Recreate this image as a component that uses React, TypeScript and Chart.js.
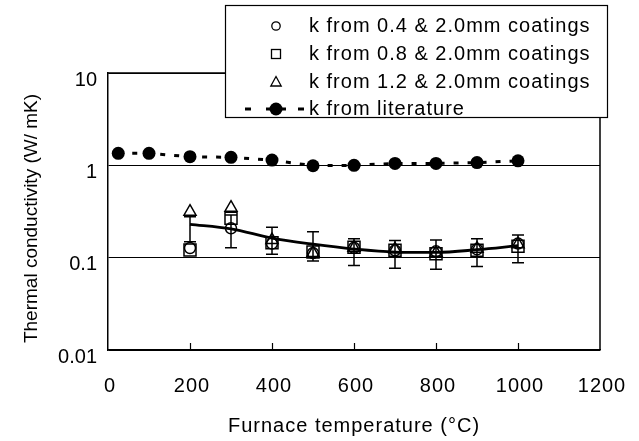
import React, { useEffect, useRef } from 'react';
import { Chart, registerables } from 'chart.js';

Chart.register(...registerables);

// ---- data ----
const temps = [200, 300, 400, 500, 600, 700, 800, 900, 1000];
const k04 = [0.127, 0.208, 0.142, 0.112, 0.128, 0.12, 0.117, 0.123, 0.142];
const k08 = [0.121, 0.267, 0.145, 0.115, 0.13, 0.12, 0.11, 0.12, 0.133];
const k12 = [0.315, 0.348, 0.155, 0.112, 0.128, 0.123, 0.113, 0.125, 0.14];
const kMean = [0.23, 0.205, 0.163, 0.14, 0.124, 0.115, 0.114, 0.122, 0.135];
const errLow = [0.149, 0.128, 0.109, 0.092, 0.082, 0.077, 0.075, 0.08, 0.088];
const errHigh = [0.278, 0.29, 0.213, 0.191, 0.16, 0.153, 0.155, 0.16, 0.176];
const litTemps = [25, 100, 200, 300, 400, 500, 600, 700, 800, 900, 1000];
const kLit = [1.35, 1.35, 1.24, 1.22, 1.14, 0.99, 1.0, 1.05, 1.05, 1.07, 1.12];
const xTicks = [0, 200, 400, 600, 800, 1000, 1200];
const yTicks = [0.01, 0.1, 1, 10];
const yTickLabels = ['0.01', '0.1', '1', '10'];
const legendLabels = [
  'k from 0.4 & 2.0mm coatings',
  'k from 0.8 & 2.0mm coatings',
  'k from 1.2 & 2.0mm coatings',
  'k from literature',
];

const FONT = "'Liberation Sans', Arial, sans-serif";
const FS = 20;

const pts = (xs: number[], ys: number[]) => xs.map((x, i) => ({ x, y: ys[i] }));

const patch = (s: any, name: string, spacing: string, dy: number) => {
  if (s['__p_' + name]) return;
  const orig = s[name].bind(s);
  s[name] = (...args: any[]) => {
    const ctx = s.ctx;
    ctx.save();
    ctx.letterSpacing = spacing;
    if (dy) ctx.translate(0, dy);
    orig(...args);
    ctx.restore();
  };
  s['__p_' + name] = true;
};

const framePlugin = {
  id: 'frame',
  afterDatasetsDraw(chart: any) {
    const { ctx, chartArea: a, scales } = chart;
    ctx.save();
    ctx.strokeStyle = '#000';
    ctx.lineWidth = 1.5;
    ctx.beginPath();
    ctx.moveTo(a.left, a.top);
    ctx.lineTo(a.right, a.top);
    ctx.lineTo(a.right, a.bottom);
    ctx.stroke();
    // inward x ticks
    ctx.lineWidth = 1.2;
    xTicks.slice(1, -1).forEach((v) => {
      const px = Math.round(scales.x.getPixelForValue(v)) + 0.5;
      ctx.beginPath();
      ctx.moveTo(px, a.bottom);
      ctx.lineTo(px, a.bottom - 7);
      ctx.stroke();
    });
    // error bars
    ctx.lineWidth = 1.5;
    temps.forEach((t, i) => {
      const px = scales.x.getPixelForValue(t);
      const y1 = scales.y.getPixelForValue(errLow[i]);
      const y2 = scales.y.getPixelForValue(errHigh[i]);
      ctx.beginPath();
      ctx.moveTo(px, y1);
      ctx.lineTo(px, y2);
      ctx.moveTo(px - 6, y1);
      ctx.lineTo(px + 6, y1);
      ctx.moveTo(px - 6, y2);
      ctx.lineTo(px + 6, y2);
      ctx.stroke();
    });
    ctx.restore();
  },
  afterDraw(chart: any) {
    const { ctx } = chart;
    const L = 225, T = 5, R = 607, B = 117;
    ctx.save();
    ctx.fillStyle = '#fff';
    ctx.fillRect(L, T, R - L, B - T);
    ctx.strokeStyle = '#000';
    ctx.lineWidth = 1.2;
    ctx.strokeRect(L + 0.5, T + 0.5, R - L, B - T);
    const rows = [26, 54, 82, 109];
    const mx = 276;
    ctx.lineWidth = 1.3;
    // circle
    ctx.beginPath();
    ctx.arc(mx, rows[0], 4.2, 0, Math.PI * 2);
    ctx.stroke();
    // square
    ctx.strokeRect(mx - 4.5, rows[1] - 4.5, 9, 9);
    // triangle
    ctx.beginPath();
    ctx.moveTo(mx, rows[2] - 5.5);
    ctx.lineTo(mx + 5.2, rows[2] + 4);
    ctx.lineTo(mx - 5.2, rows[2] + 4);
    ctx.closePath();
    ctx.stroke();
    // literature: dash - dot - dash
    ctx.fillStyle = '#000';
    ctx.fillRect(mx - 31, rows[3] - 1.5, 6, 3);
    ctx.fillRect(mx - 10, rows[3] - 1.5, 20, 3);
    ctx.fillRect(mx + 22, rows[3] - 1.5, 6, 3);
    ctx.beginPath();
    ctx.arc(mx, rows[3], 6.5, 0, Math.PI * 2);
    ctx.fill();
    ctx.font = `${FS}px ${FONT}`;
    ctx.textBaseline = 'middle';
    ctx.textAlign = 'left';
    (ctx as any).letterSpacing = '1px';
    legendLabels.forEach((s, i) => ctx.fillText(s, 309, rows[i]));
    (ctx as any).letterSpacing = '0px';
    ctx.restore();
  },
};

export default function App() {
  const ref = useRef<HTMLCanvasElement | null>(null);
  useEffect(() => {
    if (!ref.current) return;
    const chart = new Chart(ref.current, {
      type: 'scatter',
      data: {
        datasets: [
          {
            label: 'lit',
            data: pts(litTemps, kLit),
            showLine: true,
            borderColor: '#000',
            borderWidth: 3,
            borderDash: [5, 9],
            pointStyle: 'circle',
            pointRadius: 6.5,
            pointBackgroundColor: '#000',
            pointBorderColor: '#000',
            pointBorderWidth: 0,
          },
          {
            label: 'k04',
            data: pts(temps, k04),
            showLine: false,
            pointStyle: 'circle',
            pointRadius: 5.5,
            pointBackgroundColor: 'rgba(0,0,0,0)',
            pointBorderColor: '#000',
            pointBorderWidth: 1.5,
          },
          {
            label: 'k08',
            data: pts(temps, k08),
            showLine: false,
            pointStyle: 'rect',
            pointRadius: 8.5,
            pointBackgroundColor: 'rgba(0,0,0,0)',
            pointBorderColor: '#000',
            pointBorderWidth: 1.5,
          },
          {
            label: 'k12',
            data: pts(temps, k12),
            showLine: false,
            pointStyle: 'triangle',
            pointRadius: 7,
            pointBackgroundColor: 'rgba(0,0,0,0)',
            pointBorderColor: '#000',
            pointBorderWidth: 1.5,
          },
          {
            label: 'mean',
            data: pts(temps, kMean),
            showLine: true,
            borderColor: '#000',
            borderWidth: 2.8,
            tension: 0.4,
            cubicInterpolationMode: 'monotone',
            pointRadius: 0,
          },
        ],
      },
      options: {
        responsive: false,
        animation: false,
        layout: { padding: { top: 73, right: 39, left: 0, bottom: 0 } },
        plugins: { legend: { display: false }, tooltip: { enabled: false } },
        scales: {
          x: {
            type: 'linear',
            min: 0,
            max: 1200,
            afterBuildTicks: (s: any) => {
              s.ticks = xTicks.map((v) => ({ value: v }));
            },
            afterFit: (s: any) => {
              s.height = 91;
              s.paddingLeft = 0;
              s.paddingRight = 0;
              patch(s, 'drawLabels', '1px', 0);
              patch(s, 'drawTitle', '1px', 0);
            },
            ticks: {
              color: '#000',
              font: { family: FONT, size: FS },
              padding: 24,
              labelOffset: 2,
              maxRotation: 0,
              autoSkip: false,
              callback: (v: any) => String(v),
            },
            grid: { display: false, drawTicks: false },
            border: { display: true, color: '#000', width: 1.5 },
            title: {
              display: true,
              text: 'Furnace temperature (°C)',
              color: '#000',
              font: { family: FONT, size: FS },
              padding: { top: 0, bottom: 3 },
            },
          },
          y: {
            type: 'logarithmic',
            min: 0.01,
            max: 10,
            afterBuildTicks: (s: any) => {
              s.ticks = yTicks.map((v) => ({ value: v }));
            },
            afterFit: (s: any) => {
              s.width = 108;
              s.paddingTop = 0;
              s.paddingBottom = 0;
              patch(s, 'drawTitle', '0px', 7);
            },
            ticks: {
              color: '#000',
              font: { family: FONT, size: FS },
              padding: 11,
              labelOffset: 7,
              autoSkip: false,
              callback: (v: any) => {
                const i = yTicks.findIndex((t) => Math.abs(t - Number(v)) < 1e-9);
                return i >= 0 ? yTickLabels[i] : '';
              },
            },
            grid: { display: true, color: '#000', lineWidth: 1, drawTicks: false },
            border: { display: true, color: '#000', width: 1.5 },
            title: {
              display: true,
              text: 'Thermal conductivity (W/ mK)',
              color: '#000',
              font: { family: FONT, size: 19 },
              padding: { top: 20, bottom: 0 },
            },
          },
        },
      },
      plugins: [framePlugin],
    } as any);
    return () => chart.destroy();
  }, []);
  return (
    <div style={{ position: 'absolute', left: 0, top: 0, width: 639, height: 441, background: '#fff' }}>
      <canvas ref={ref} width={639} height={441} />
    </div>
  );
}
